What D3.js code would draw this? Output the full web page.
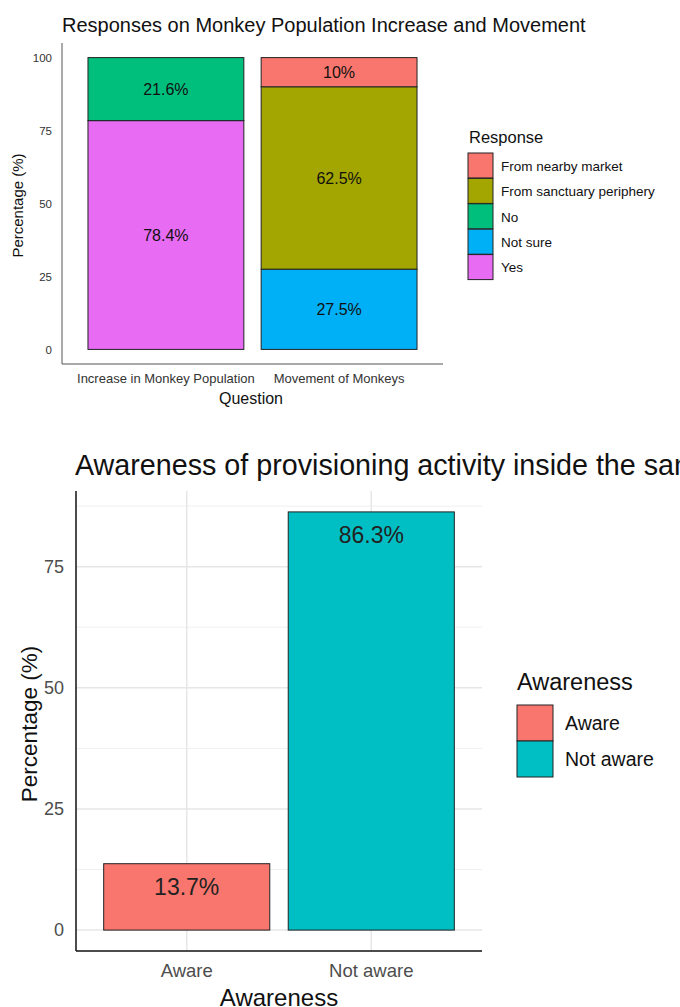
<!DOCTYPE html>
<html>
<head>
<meta charset="utf-8">
<script src="https://cdn.jsdelivr.net/npm/d3@7"></script>
<style>
  body { margin: 0; background: #fff; }
  text { font-family: "Liberation Sans", Arial, sans-serif; }
</style>
</head>
<body>
<script>
// Graphique 1 : réponses empilées
const questions = ["Increase in Monkey Population", "Movement of Monkeys"];
const responses = ["From nearby market", "From sanctuary periphery", "No", "Not sure", "Yes"];
const fromMarket = [0, 10];
const fromPeriphery = [0, 62.5];
const answerNo = [21.6, 0];
const notSure = [0, 27.5];
const answerYes = [78.4, 0];
const responseColors = ["#F8766D", "#A3A500", "#00BF7D", "#00B0F6", "#E76BF3"];
const yTicks1 = [0, 25, 50, 75, 100];

// Graphique 2 : connaissance de l'approvisionnement
const awareness = ["Aware", "Not aware"];
const awarePct = [13.7, 86.3];
const awareColors = ["#F8766D", "#00BFC4"];
const yTicks2 = [0, 25, 50, 75];

const svg = d3.select("body").append("svg")
    .attr("width", 680)
    .attr("height", 1007);

svg.append("rect").attr("width", 680).attr("height", 1007).attr("fill", "#fff");

// ---------- premier graphique ----------
const series1 = [fromMarket, fromPeriphery, answerNo, notSure, answerYes];
const table1 = questions.map((q, i) => {
    const row = { question: q };
    responses.forEach((r, j) => row[r] = series1[j][i]);
    return row;
});

const p1 = { left: 62, right: 443, top: 43, bottom: 364 };

const x1 = d3.scaleBand()
    .domain(questions)
    .range([p1.left, p1.right])
    .paddingInner(0.1)
    .paddingOuter(0.15);

const y1 = d3.scaleLinear()
    .domain([-5, 105])
    .range([p1.bottom, p1.top]);

const color1 = d3.scaleOrdinal().domain(responses).range(responseColors);

// ggplot empile le dernier niveau en bas
const stacked = d3.stack().keys(responses.slice().reverse())(table1);

const g1 = svg.append("g");

g1.selectAll(".layer")
    .data(stacked)
    .enter().append("g")
    .attr("class", "layer")
    .attr("fill", d => color1(d.key))
    .selectAll("rect")
    .data(d => d.filter(s => s[1] - s[0] > 0))
    .enter().append("rect")
    .attr("x", d => x1(d.data.question))
    .attr("y", d => y1(d[1]))
    .attr("width", x1.bandwidth())
    .attr("height", d => y1(d[0]) - y1(d[1]))
    .attr("stroke", "#222")
    .attr("stroke-width", 1);

g1.selectAll(".layer")
    .selectAll(".seg-label")
    .data(d => d.filter(s => s[1] - s[0] > 0).map(s => ({ s: s, key: d.key })))
    .enter().append("text")
    .attr("x", d => x1(d.s.data.question) + x1.bandwidth() / 2)
    .attr("y", d => y1((d.s[0] + d.s[1]) / 2))
    .attr("dy", "0.35em")
    .attr("text-anchor", "middle")
    .attr("font-size", "16px")
    .attr("fill", "#111")
    .text(d => d.s.data[d.key] + "%");

// axes
const ax1y = g1.append("g")
    .attr("transform", `translate(${p1.left},0)`)
    .call(d3.axisLeft(y1).tickValues(yTicks1).tickSize(0).tickPadding(10));
ax1y.select(".domain").attr("stroke", "#555").attr("d", `M0,${p1.top}V${p1.bottom}`);
ax1y.selectAll("text").attr("font-size", "11.5px").attr("fill", "#333");

const ax1x = g1.append("g")
    .attr("transform", `translate(0,${p1.bottom})`)
    .call(d3.axisBottom(x1).tickSize(0).tickPadding(10));
ax1x.select(".domain").attr("stroke", "#555").attr("d", `M${p1.left},0H${p1.right}`);
ax1x.selectAll("text").attr("font-size", "13px").attr("fill", "#333");

g1.append("text")
    .attr("x", 62)
    .attr("y", 32)
    .attr("font-size", "20px")
    .attr("fill", "#111")
    .text("Responses on Monkey Population Increase and Movement");

g1.append("text")
    .attr("x", 251)
    .attr("y", 404)
    .attr("text-anchor", "middle")
    .attr("font-size", "16px")
    .attr("fill", "#111")
    .text("Question");

g1.append("text")
    .attr("transform", `translate(23,${(p1.top + p1.bottom) / 2 + 2}) rotate(-90)`)
    .attr("text-anchor", "middle")
    .attr("font-size", "15px")
    .attr("fill", "#111")
    .text("Percentage (%)");

// légende
const leg1 = g1.append("g").attr("transform", "translate(468,153)");
leg1.append("text")
    .attr("x", 1).attr("y", -10)
    .attr("font-size", "16.5px").attr("fill", "#111")
    .text("Response");
responses.forEach((r, i) => {
    leg1.append("rect")
        .attr("x", 0).attr("y", i * 25.4)
        .attr("width", 25).attr("height", 25)
        .attr("fill", color1(r)).attr("stroke", "#222");
    leg1.append("text")
        .attr("x", 33).attr("y", i * 25.4 + 13)
        .attr("dy", "0.35em")
        .attr("font-size", "13.5px").attr("fill", "#111")
        .text(r);
});

// ---------- second graphique ----------
const p2 = { left: 76, right: 482, top: 491, bottom: 951 };
const maxPct = d3.max(awarePct);

const x2 = d3.scaleBand()
    .domain(awareness)
    .range([p2.left, p2.right])
    .paddingInner(0.1)
    .paddingOuter(0.15);

const y2 = d3.scaleLinear()
    .domain([-0.05 * maxPct, maxPct * 1.05])
    .range([p2.bottom, p2.top]);

const color2 = d3.scaleOrdinal().domain(awareness).range(awareColors);

const g2 = svg.append("g");

// grille
const minorTicks = yTicks2.map(t => t + 12.5).filter(t => t < y2.domain()[1]);
g2.selectAll(".minor")
    .data(minorTicks)
    .enter().append("line")
    .attr("x1", p2.left).attr("x2", p2.right)
    .attr("y1", d => y2(d)).attr("y2", d => y2(d))
    .attr("stroke", "#f0f0f0").attr("stroke-width", 1);
g2.selectAll(".major")
    .data(yTicks2)
    .enter().append("line")
    .attr("x1", p2.left).attr("x2", p2.right)
    .attr("y1", d => y2(d)).attr("y2", d => y2(d))
    .attr("stroke", "#e6e6e6").attr("stroke-width", 1.5);
g2.selectAll(".vmajor")
    .data(awareness)
    .enter().append("line")
    .attr("x1", d => x2(d) + x2.bandwidth() / 2).attr("x2", d => x2(d) + x2.bandwidth() / 2)
    .attr("y1", p2.top).attr("y2", p2.bottom)
    .attr("stroke", "#e6e6e6").attr("stroke-width", 1.5);

const table2 = awareness.map((a, i) => ({ name: a, value: awarePct[i] }));

g2.selectAll(".bar")
    .data(table2)
    .enter().append("rect")
    .attr("x", d => x2(d.name))
    .attr("y", d => y2(d.value))
    .attr("width", x2.bandwidth())
    .attr("height", d => y2(0) - y2(d.value))
    .attr("fill", d => color2(d.name))
    .attr("stroke", "#222")
    .attr("stroke-width", 1);

g2.selectAll(".bar-label")
    .data(table2)
    .enter().append("text")
    .attr("x", d => x2(d.name) + x2.bandwidth() / 2)
    .attr("y", d => y2(d.value) + 23)
    .attr("dy", "0.35em")
    .attr("text-anchor", "middle")
    .attr("font-size", "23px")
    .attr("fill", "#222")
    .text(d => d.value + "%");

const ax2y = g2.append("g")
    .attr("transform", `translate(${p2.left},0)`)
    .call(d3.axisLeft(y2).tickValues(yTicks2).tickSize(0).tickPadding(12));
ax2y.select(".domain").attr("stroke", "#111").attr("stroke-width", 1.5).attr("d", `M0,${p2.top}V${p2.bottom}`);
ax2y.selectAll("text").attr("font-size", "18px").attr("fill", "#4d4d4d");

const ax2x = g2.append("g")
    .attr("transform", `translate(0,${p2.bottom})`)
    .call(d3.axisBottom(x2).tickSize(0).tickPadding(13));
ax2x.select(".domain").attr("stroke", "#111").attr("stroke-width", 1.5).attr("d", `M${p2.left},0H${p2.right}`);
ax2x.selectAll("text").attr("font-size", "18.5px").attr("fill", "#4d4d4d");

// le titre dépasse du cadre, comme dans l'original
g2.append("text")
    .attr("x", 75)
    .attr("y", 475)
    .attr("font-size", "28.7px")
    .attr("fill", "#111")
    .text("Awareness of provisioning activity inside the sanctuary");

g2.append("text")
    .attr("x", (p2.left + p2.right) / 2)
    .attr("y", 1006)
    .attr("text-anchor", "middle")
    .attr("font-size", "24px")
    .attr("fill", "#111")
    .text("Awareness");

g2.append("text")
    .attr("transform", `translate(37,${(p2.top + p2.bottom) / 2 + 3}) rotate(-90)`)
    .attr("text-anchor", "middle")
    .attr("font-size", "22.5px")
    .attr("fill", "#111")
    .text("Percentage (%)");

const leg2 = g2.append("g").attr("transform", "translate(517,705)");
leg2.append("text")
    .attr("x", 0).attr("y", -15)
    .attr("font-size", "23.5px").attr("fill", "#111")
    .text("Awareness");
awareness.forEach((a, i) => {
    leg2.append("rect")
        .attr("x", 0).attr("y", i * 36)
        .attr("width", 36).attr("height", 36)
        .attr("fill", color2(a)).attr("stroke", "#222");
    leg2.append("text")
        .attr("x", 48).attr("y", i * 36 + 18)
        .attr("dy", "0.35em")
        .attr("font-size", "19.5px").attr("fill", "#111")
        .text(a);
});
</script>
</body>
</html>
